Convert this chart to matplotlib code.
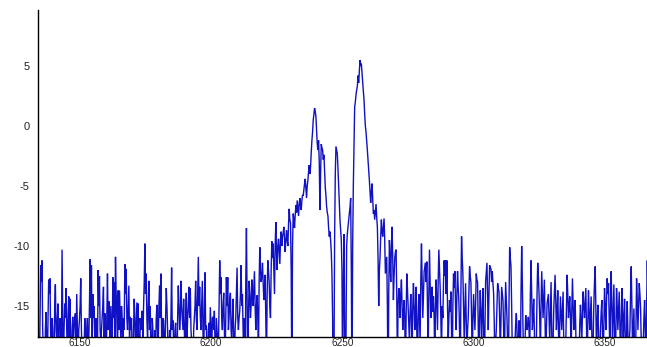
import numpy as np
import matplotlib
matplotlib.use("Agg")
import matplotlib.pyplot as plt

# Spectrum sampling grid (start and step in wavelength units)
START = 6134.0
STEP = 0.2545

# Power level on the even samples, rows of roughly 10 units each
level_a = [
    -16.5, -21, -11.6, -11.2, -19, -23, -15.5, -20, -12.8, -12.7,
    -22, -17, -19, -13.2, -18, -14.8, -24, -17.5, -10.3, -21,
    -14.8, -13.5, -19, -14.2, -14.4, -22, -15.9, -17, -15.6, -14,
    -20, -16.2, -12.7, -19, -24, -16, -21, -16, -18, -11.1,
    -11.6, -14, -15, -20, -17, -12, -12.5, -18, -16, -13.4,
    -15.6, -21, -12.3, -14.6, -19, -17, -12.6, -13, -10.9, -16,
    -13.7, -13.7, -18, -16, -16, -11.5, -11.9, -17, -13.3, -15.9,
    -16, -20, -14.4, -19, -14.7, -14.8, -22, -17, -15.4, -15.1,
    -9.8, -12.3, -18, -12.9, -15, -21, -17, -24, -19, -14.9,
    -18, -13.3, -12.3, -20, -16.2, -19, -13.5, -17, -22, -18,
    -11.8, -16.2, -20, -16.4, -21, -13.3, -17, -12.9, -16, -14.4,
    -19, -13.9, -16, -13.4, -13.5, -18, -23, -16, -12.9, -17,
    -10.9, -13.4, -17, -12.9, -20, -12.2, -16.6, -21, -16.4, -15.1,
    -19, -15.9, -15.4, -22, -17, -19, -11.2, -12.6, -17, -13.9,
    -20, -12.6, -12.6, -16, -13.9, -18, -14.4, -21, -16, -11.8,
    -17, -15.4, -11.6, -14, -19, -22, -8.5, -20, -12.9, -16,
]

level_b = [
    -12.8, -15, -12.1, -17, -14.1, -19, -10.1, -13, -11.4, -14.5,
    -12.4, -20, -11.2, -13, -16, -9.6, -9.8, -14, -8, -12,
    -9.4, -11.5, -8.8, -9.2, -8.4, -10.5, -8.7, -10, -6.9, -8.1,
    -22, -7.3, -8.5, -6.6, -6.2, -7.5, -6, -7, -5.75, -5.3,
    -4.4, -6, -4.5, -3.25, -3.4, -1.2, 0.5, 1.5, 0.8, -1.5,
    -1.2, -7, -1.5, -2, -2.4, -5.1, -6.7, -7.5, -9.2, -9.5,
    -12.3, -25, -9.3, -1.7, -2.3, -5, -7.8, -9.5, -22, -9,
    -25, -10, -8.4, -7.3, -6, -23, -5, 1.6, 2.6, 3.3,
    3.6, 5.5, 5.2, 3.6, 2.2, 0, -1.2, -2.8, -4.5, -6.4,
    -4.8, -7.3, -7.8, -6.5, -8.4, -15, -10.9, -7.8, -9.2, -7.7,
    -12.3, -10.9, -24, -9.5, -13, -8.4, -14.5, -11, -10.3, -20,
    -13.5, -16, -12.8, -17, -14.5, -21, -12.3, -15, -18, -14,
]

level_c = [
    -19, -13.1, -17, -13.4, -21, -14, -18, -9.8, -16, -12.1,
    -11.4, -11.3, -19, -10.3, -16, -13.4, -14.2, -20, -12.8, -17,
    -10.3, -13.5, -19, -16, -11.2, -11.2, -11.2, -18, -14.5, -13.8,
    -21, -12.3, -12.1, -17, -12.1, -14.6, -22, -9.2, -12.3, -18,
    -13.1, -19, -16, -11.7, -13, -20, -14, -17, -12.3, -13,
    -21, -13.7, -18, -13.5, -23, -13, -11.4, -17, -11.6, -11.9,
    -12.1, -14, -20, -17, -13.1, -13.8, -19, -13.4, -14.5, -21,
    -13, -16, -22, -10.1, -11.7, -19, -24, -18, -15.6, -21,
    -16.2, -20, -10, -17, -22, -15.75, -17, -15.9, -19, -11.2,
    -17, -14.4, -21, -18, -11.4, -14, -19, -12.1, -16, -12.8,
    -20, -14.8, -14, -18, -13, -22, -15.3, -12.4, -17, -13.7,
    -20, -14.2, -17, -13.8, -23, -18, -12.4, -16, -14.2, -19,
    -12.7, -17, -14.5, -21, -24, -19, -14.9, -18, -13.8, -16,
    -13.5, -20, -13.7, -17, -14.2, -21, -14.9, -11.7, -19, -14.9,
    -22, -17, -14.5, -20, -13.5, -17, -12.7, -13.1, -19, -12.1,
    -18, -13.2, -21, -13.5, -17, -13.8, -20, -13.5, -18, -14.4,
    -22, -14.6, -20, -17, -11.7, -19, -15.2, -23, -12.7, -17,
    -13.1, -15.2, -21, -18, -14.5, -20, -11.2, -17, -21, -15,
]

# Power level on the odd samples (between the ones above)
odd_a = [
    -18, -16, -13, -17, -20, -17, -18, -16, -14, -18,
    -16, -21, -15, -17, -16, -20, -16, -19, -16, -17,
    -16, -17, -16, -18, -19, -17, -18, -16, -18, -17,
    -17, -15, -17, -21, -19, -18, -17, -19, -15, -16,
    -19, -16, -18, -16, -19, -15, -17, -17, -15, -19,
    -18, -16, -17, -16, -15, -19, -16, -18, -14, -19,
    -17, -16, -15, -19, -17, -14, -16, -15, -18, -17,
    -19, -17, -16, -17, -18, -19, -16, -16, -18, -13,
    -14, -16, -15, -17, -19, -16, -20, -17, -16, -17,
    -15, -16, -18, -16, -18, -16, -15, -19, -17, -16,
    -17, -18, -17, -19, -16, -15, -16, -15, -17, -17,
    -16, -18, -15, -16, -17, -19, -17, -15, -16, -14,
    -15, -16, -15, -18, -15, -17, -19, -17, -18, -17,
    -16, -17, -18, -16, -18, -15, -14, -16, -15, -17,
    -16, -15, -17, -14.5, -17, -16, -18, -17, -14, -16,
    -16, -14, -15, -17, -16, -13, -15, -16, -14, -15,
]

odd_b = [
    -14, -13.5, -15, -15, -16, -13, -12, -12.5, -13, -14,
    -16, -14, -12, -15, -12, -11, -12, -10, -10.5, -10,
    -10.5, -9.5, -10, -8.9, -9.5, -9.5, -9.5, -8.2, -7.8, -12,
    -10, -7.8, -7.4, -7.2, -6.8, -6.5, -6.6, -6.2, -5.8, -4.8,
    -5.2, -5, -3.8, -4, -2.2, -0.5, 1.0, 1.2, -0.3, -2,
    -3, -4, -1.8, -2.8, -3.8, -5.8, -7.2, -8.5, -8.8, -10.5,
    -16, -20, -4, -2, -3.5, -6.5, -8.6, -12, -14, -16,
    -18, -9, -7.8, -6.8, -12, -10, -1.5, 2.0, 3.0, 4.2,
    4.6, 5.0, 4.4, 2.9, 1.0, -0.5, -2.0, -3.6, -5.5, -5.5,
    -6.0, -7.0, -7.2, -7.6, -11, -12, -9.2, -8.8, -8.4, -9.5,
    -11.6, -15, -14, -11, -10, -11, -12.5, -10.5, -14, -15,
    -14, -14, -15, -15.5, -16, -16, -13.5, -16.5, -15.5, -16,
]

odd_c = [
    -15, -15, -15.5, -17, -16, -16, -13, -13, -14, -11.8,
    -13, -15, -14, -13, -14.5, -15.5, -16, -15, -15, -13,
    -12, -16, -15, -13, -12.5, -14, -15, -16, -15.5, -17,
    -15, -13.5, -15, -14, -13.5, -17, -14, -11, -15, -15.5,
    -16, -17, -14, -12.5, -16, -16, -15.5, -15, -12.8, -16.5,
    -16, -15.5, -15.5, -17, -17, -12.2, -14, -14, -11.8, -13,
    -13, -16.5, -18, -15, -13.5, -16, -16, -14, -17, -16,
    -14.5, -18, -15, -11, -15, -21, -20, -16.5, -17, -18,
    -17, -14, -13, -19, -18, -16.5, -16.5, -17, -14, -14,
    -16, -17, -19, -14, -12.5, -16, -15, -14, -14.5, -16,
    -17, -14.4, -16, -15.5, -17, -18, -13.8, -14.5, -15.5, -16.5,
    -16.5, -15.5, -15.5, -18, -19, -15, -14, -15, -16, -15.5,
    -15, -15.5, -17, -19, -21, -16.5, -16.5, -15.5, -15, -14.8,
    -16.5, -16.5, -15.5, -15.5, -17, -18, -13, -15, -16.5, -17,
    -19, -15.5, -17, -16.5, -15, -14.6, -14, -16, -15, -15,
    -15.5, -17, -17, -15, -15.5, -16.5, -16.5, -15.5, -16, -18,
    -17, -17, -18, -14, -15, -17, -19, -17, -14.5, -15,
    -14, -18, -19, -16, -17, -15, -14, -19, -17, -16,
]

even = np.array(level_a + level_b + level_c, dtype=float)
odd = np.array(odd_a + odd_b + odd_c, dtype=float)
level = np.column_stack([even, odd]).ravel()
wavelength = START + STEP * np.arange(level.size)

x_ticks = [6150, 6200, 6250, 6300, 6350]
y_ticks = [-15, -10, -5, 0, 5]

fig = plt.figure(figsize=(6.47, 3.47), dpi=100)
ax = fig.add_axes([38 / 647, 10 / 347, 1 - 38 / 647, 327 / 347])

ax.plot(wavelength, level, color="#1010c4", lw=1.0, solid_joinstyle="miter")

ax.set_xlim(6134.0, 6366.0)
ax.set_ylim(-17.58, 9.67)
ax.set_xticks(x_ticks)
ax.set_yticks(y_ticks)
ax.set_xticklabels([str(t) for t in x_ticks])
ax.set_yticklabels([str(t) for t in y_ticks])

for side in ("top", "right"):
    ax.spines[side].set_visible(False)
for side in ("left", "bottom"):
    ax.spines[side].set_color("black")
    ax.spines[side].set_linewidth(1.0)

ax.tick_params(axis="both", length=0, colors="#222222")
ax.tick_params(axis="y", pad=6, labelsize=8)
ax.tick_params(axis="x", pad=0.8, labelsize=7.2)
for lab in ax.get_xticklabels() + ax.get_yticklabels():
    lab.set_family("Liberation Sans")

fig.savefig("out.png", dpi=100, facecolor="white")
